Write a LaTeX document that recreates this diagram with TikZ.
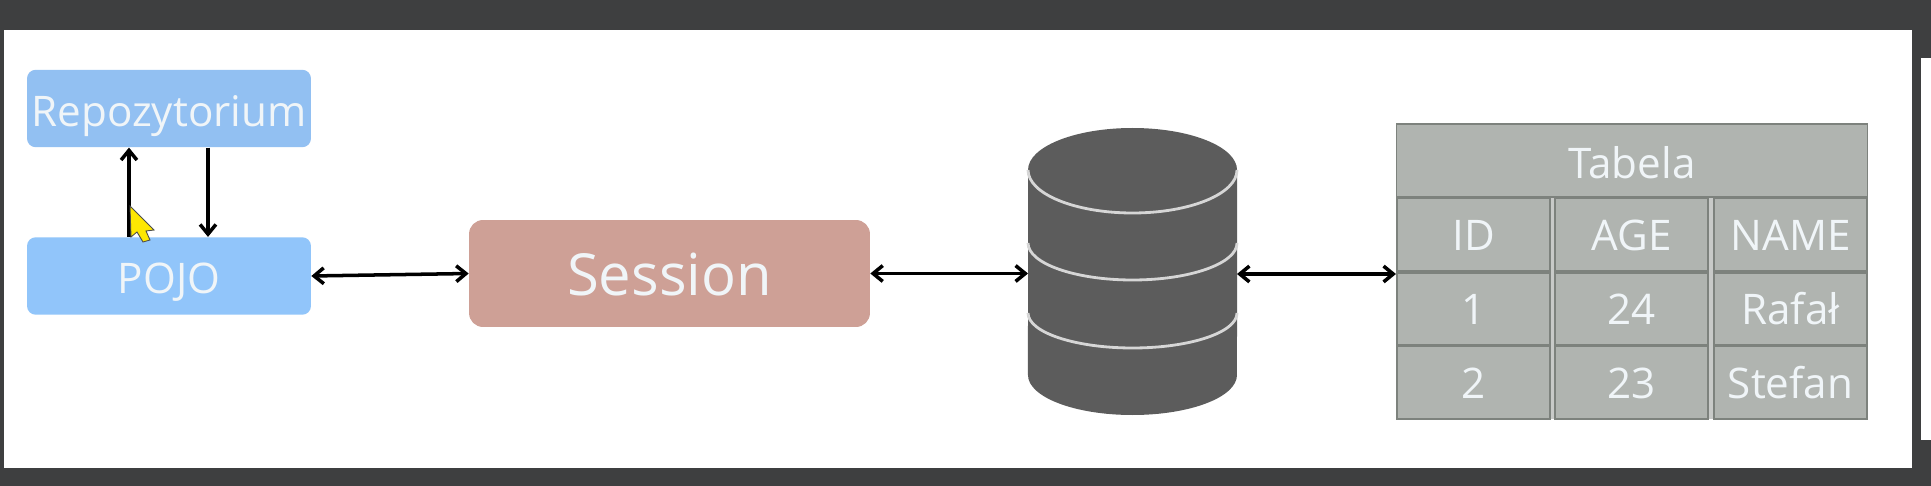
\documentclass[tikz,border=0pt]{standalone}
\usepackage{fontspec}
\setmainfont{Open Sans}
\definecolor{frameclr}{RGB}{62,63,64}
\definecolor{pojoclr}{RGB}{145,197,250}
\definecolor{repoclr}{RGB}{146,192,242}
\definecolor{sessclr}{RGB}{206,160,150}
\definecolor{dbclr}{RGB}{92,92,92}
\definecolor{bandclr}{RGB}{214,214,214}
\definecolor{cellclr}{RGB}{176,180,176}
\definecolor{celledge}{RGB}{125,130,125}
\definecolor{textclr}{RGB}{240,245,248}
\usetikzlibrary{arrows.meta,positioning,calc}
\tikzset{
  bluebox/.style={rounded corners=5pt, minimum width=5.68cm, minimum height=1.55cm, text=textclr, font=\fontsize{24}{28}\selectfont, text height=20pt, text depth=0pt, inner sep=0pt},
  cell/.style={draw=celledge, line width=1pt, fill=cellclr, minimum width=3.06cm, minimum height=1.45cm, text=textclr, font=\fontsize{24}{28}\selectfont, text height=18pt, text depth=0pt, inner sep=0pt},
  link/.style={{Straight Barb[length=5.5pt,width=9pt]}-{Straight Barb[length=5.5pt,width=9pt]}, line width=2pt, black},
  oneway/.style={-{Straight Barb[length=5.5pt,width=9pt]}, line width=2pt, black},
  band/.style={draw=bandclr, line width=1.6pt},
}
\begin{document}
\begin{tikzpicture}[x=0.02cm,y=-0.02cm]
  % Window frame
  \fill[frameclr] (0,0) rectangle (1931,486);
  \fill[white] (4,30) rectangle (1912,468);
  \fill[white] (1921,58) rectangle (1931,440);
  \useasboundingbox (0,0) rectangle (1931,486);
  % Left boxes
  \node[bluebox, fill=repoclr] (repo) at (169,108.5) {Repozytorium};
  \node[bluebox, fill=pojoclr] (pojo) at (169,276) {POJO};
  \node[rounded corners=8pt, fill=sessclr, minimum width=8.02cm, minimum height=2.14cm, text=textclr, font=\fontsize{33}{38}\selectfont, text height=25.5pt, text depth=0pt, inner sep=0pt] (session) at (669.5,273.5) {Session};
  % Database
  \node[minimum width=4.18cm, minimum height=5.74cm, inner sep=0pt, outer sep=0pt] (db) at (1132.5,271.5) {};
  \fill[dbclr] (db.west |- 0,170) arc[start angle=180, end angle=360, x radius=104.5, y radius=42] -- (db.east |- 0,375) arc[start angle=0, end angle=180, x radius=104.5, y radius=40] -- cycle;
  \foreach \ya/\yb in {170/43, 243/37, 313/35}
    \draw[band] (db.west |- 0,\ya) arc[start angle=180, end angle=0, x radius=104.5, y radius=\yb];
  % Table
  \fill[cellclr!70!white] (1396,197) rectangle (1868,419);
  \node[cell, minimum width=9.42cm, text height=20pt] (title) at (1632,160.5) {Tabela};
  \node[cell] (h1) at (1473.5,234.5) {ID};
  \node[cell] (h2) at (1631.5,234.5) {AGE};
  \node[cell] (h3) at (1790.5,234.5) {NAME};
  \node[cell] (a1) at (1473.5,309) {1};
  \node[cell] (a2) at (1631.5,309) {24};
  \node[cell] (a3) at (1790.5,309) {Rafał};
  \node[cell] (b1) at (1473.5,382.5) {2};
  \node[cell] (b2) at (1631.5,382.5) {23};
  \node[cell] (b3) at (1790.5,382.5) {Stefan};
  % Arrows
  \coordinate (tablein) at (1396,274);
  \draw[oneway] (pojo.north -| 129,0) -- (repo.south -| 129,0);
  \draw[oneway] (repo.south -| 208,0) -- (pojo.north -| 208,0);
  \draw[link] (pojo.east) -- (session.west);
  \draw[link] (session.east) -- (session.east -| db.west);
  \draw[link] (tablein -| db.east) -- (tablein);
  % Cursor
  \fill[yellow!90!orange, draw=black!70, line width=0.5pt] (130,206) -- (154,230) -- (146,231) -- (150,240) -- (143,242) -- (137,232) -- (131,237) -- cycle;
\end{tikzpicture}
\end{document}
